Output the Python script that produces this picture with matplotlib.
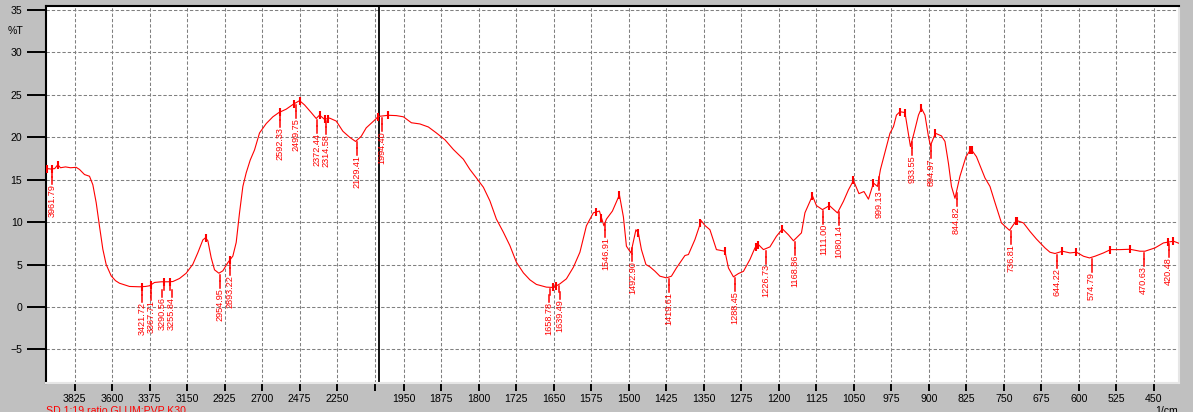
"""FTIR transmittance spectrum, SD 1:19 GLUM:PVP K30."""

import numpy as np
import matplotlib
matplotlib.use('Agg')
import matplotlib.pyplot as plt
from matplotlib.transforms import offset_copy

# spectrum (1/cm, %T)
WAVENUMBER = [
    4000, 3992, 3966, 3945, 3926, 3910, 3880, 3850, 3816, 3796, 3766, 3736,
    3716, 3696, 3676, 3656, 3636, 3606, 3580, 3556, 3496, 3436, 3400, 3376,
    3360, 3346, 3306, 3266, 3236, 3196, 3156, 3116, 3086, 3056, 3040, 3026,
    3006, 2986, 2960, 2936, 2906, 2876, 2856, 2836, 2816, 2796, 2772, 2746,
    2716, 2676, 2636, 2600, 2556, 2512, 2476, 2446, 2406, 2376, 2356, 2326,
    2296, 2256, 2216, 2176, 2140, 2106, 2076, 2026, 2006,
    1999, 1981, 1965, 1951, 1935, 1918, 1901, 1885, 1868, 1851, 1831, 1818,
    1805, 1791, 1778, 1765, 1751, 1738, 1725, 1711, 1698, 1685, 1665, 1651,
    1638, 1625, 1611, 1598, 1585, 1571, 1559, 1550, 1545, 1533, 1519, 1511,
    1505, 1496, 1491, 1486, 1481, 1475, 1466, 1458, 1448, 1438, 1425, 1415,
    1405, 1388, 1381, 1368, 1358, 1356, 1348, 1338, 1325, 1308, 1301, 1291,
    1281, 1271, 1258, 1248, 1241, 1231, 1218, 1205, 1193, 1181, 1171, 1155,
    1148, 1138, 1133, 1125, 1113, 1099, 1083, 1071, 1061, 1051, 1040, 1030,
    1021, 1011, 1003, 997, 978, 971, 965, 958, 948, 943, 937, 930, 921, 915,
    908, 901, 897, 891, 887, 875, 868, 861, 855, 848, 838, 826, 816, 805,
    788, 778, 768, 755, 739, 725, 711, 698, 685, 668, 658, 648, 633, 618,
    605, 591, 579, 568, 551, 537, 518, 498, 478, 468, 448, 431, 411, 400,
]
TRANSMITTANCE = [
    16.0, 16.3, 16.25, 16.3, 16.76, 16.4, 16.5, 16.4, 16.45, 16.2, 15.6, 15.4,
    14.4, 12.3, 9.5, 6.8, 5.0, 3.67, 3.1, 2.8, 2.42, 2.38, 2.42, 2.5,
    2.7, 2.89, 2.97, 2.97, 3.0, 3.36, 3.98, 5.04, 6.4, 7.9, 8.16, 7.8,
    5.8, 4.38, 3.98, 4.26, 5.23, 6.0, 7.6, 11.1, 14.2, 15.8, 17.3, 18.5,
    20.5, 21.6, 22.4, 22.9, 23.3, 23.9, 24.3, 23.8, 22.9, 22.2, 22.6, 22.1,
    22.25, 21.9, 20.7, 20.0, 19.5, 20.1, 21.1, 22.0, 22.4,
    22.46, 22.58, 22.54, 22.4, 21.7, 21.56, 21.2, 20.5, 19.7, 18.55, 17.4, 16.2,
    15.2, 14.1, 12.5, 10.35, 8.8, 7.23, 5.27, 4.02, 3.2, 2.66, 2.34, 2.3,
    2.73, 3.32, 4.69, 6.45, 9.57, 11.1, 11.3, 9.57, 10.35, 11.3, 13.2, 10.6,
    7.16, 6.37, 7.75, 9.1, 8.7, 6.76, 5.0, 4.73, 4.22, 3.63, 3.43, 3.63,
    4.6, 6.06, 6.18, 7.94, 9.7, 10.2, 9.6, 9.1, 6.76, 6.57, 4.6, 3.55,
    3.94, 4.2, 5.6, 6.96, 7.35, 6.76, 7.08, 8.33, 9.2, 8.5, 7.8, 8.73,
    11.1, 12.45, 13.1, 11.94, 11.47, 11.94, 11.08, 12.45, 13.8, 14.9, 13.35, 13.6,
    12.7, 14.6, 14.2, 16.2, 20.46, 21.24, 22.6, 23.0, 22.9, 21.05, 18.9, 20.46, 22.6, 23.4,
    22.6, 20.07, 19.0, 19.9, 20.46, 20.15, 19.5, 16.9, 14.2, 12.8, 15.4, 17.7, 18.6, 17.7,
    15.2, 14.2, 12.3, 9.9, 9.03, 10.2, 9.9, 8.9, 8.0, 6.96, 6.45, 6.3, 6.57, 6.37,
    6.45, 5.98, 5.78, 5.98, 6.37, 6.76, 6.76, 6.8, 6.57, 6.57, 6.96, 7.55, 7.75, 7.5,
]

# picked peaks (labelled) and the small bound marks on the trace
PEAKS = [
    3961.79, 3421.72, 3367.71, 3290.56, 3255.84, 2954.95, 2893.22, 2592.33,
    2499.75, 2372.44, 2314.58, 2129.41, 1994.40, 1658.78, 1639.49, 1546.91,
    1492.90, 1419.61, 1288.45, 1226.73, 1168.86, 1111.00, 1080.14, 999.13,
    933.55, 894.97, 844.82, 736.81, 644.22, 574.79, 470.63, 420.48,
]
MARKS = [
    3992, 3961.79, 3926, 3421.72, 3367.71, 3290.56, 3255.84, 3040, 2893.22,
    2592.33, 2512, 2476, 2356, 2326, 2306, 2006, 1981, 1651, 1645, 1565, 1555,
    1519, 1481, 1357, 1308, 1246, 1241, 1193, 1133, 1099, 1051, 1011, 958,
    948, 915, 887, 817, 814, 726, 723, 633, 605, 537, 498, 422, 411,
]

X_TICKS = [3825, 3600, 3375, 3150, 2925, 2700, 2475, 2250, 2025,
           1950, 1875, 1800, 1725, 1650, 1575, 1500, 1425, 1350, 1275, 1200,
           1125, 1050, 975, 900, 825, 750, 675, 600, 525, 450]
Y_TICKS = [-5, 0, 5, 10, 15, 20, 25, 30, 35]
SAMPLE = 'SD 1:19 ratio GLUM:PVP K30'

BREAK = 2000.0
RED = '#ff0000'
GRAY = '#c0c0c0'
W, H = 1193, 412

# labels that the software pushed sideways to keep them apart (pixels)
NUDGE = {3290.56: -1.5, 3255.84: 2.0, 1658.78: -0.5, 1639.49: 0.5}


def _fwd(w):
    w = np.asarray(w, dtype=float)
    return np.where(w >= BREAK, (w - BREAK) / 3.0, w - BREAK)


def _inv(u):
    u = np.asarray(u, dtype=float)
    return np.where(u >= 0, u * 3.0 + BREAK, u + BREAK)


def run():
    plt.rcParams['font.family'] = ['Liberation Sans', 'DejaVu Sans']
    fig = plt.figure(figsize=(W / 100, H / 100), dpi=100, facecolor=GRAY)
    ax = fig.add_axes([45.5 / W, 1 - 383 / H, (1179 - 45.5) / W, (383 - 6) / H])
    ax.set_facecolor('white')
    ax.set_xscale('function', functions=(_fwd, _inv))
    ax.set_xlim(4000, 400)
    ax.set_ylim(-8.95, 35.45)

    for t in Y_TICKS:
        ax.axhline(t, color='#808080', lw=0.75, ls=(0, (3.2, 1.9)), zorder=1)
    for t in X_TICKS:
        ax.axvline(t, color='#808080', lw=0.75, ls=(0, (3.2, 1.9)), zorder=1)
    ax.axvline(BREAK, color='black', lw=1.3, zorder=2)

    wav = np.array(WAVENUMBER)
    trn = np.array(TRANSMITTANCE)
    ax.plot(wav, trn, color=RED, lw=0.8, zorder=3)

    # np.interp wants increasing x
    def _on_curve(w):
        return np.interp(w, wav[::-1], trn[::-1])

    for w in MARKS:
        ax.plot([w], [_on_curve(w)], marker='|', ms=6, mew=1.5,
                color=RED, zorder=4)

    px = 1.0 / 8.486  # one pixel in %T
    for w in PEAKS:
        t = _on_curve(w)
        dx = NUDGE.get(w, 0.0)
        shifted = offset_copy(ax.transData, fig=fig, x=dx, y=0, units='dots')
        ax.plot([w, w], [t - 2 * px, t - 8 * px], color=RED, lw=1.1,
                zorder=4)
        ax.plot([w, w], [t - 8 * px, t - 15 * px], color=RED, lw=1.1,
                zorder=4, transform=shifted)
        ax.text(w, t - 15 * px, '%.2f' % w, rotation=90, ha='center',
                va='top', color=RED, fontsize=6.6, zorder=4,
                transform=shifted)

    ax.set_xticks(X_TICKS)
    ax.set_xticklabels(['' if t == 2025 else str(t) for t in X_TICKS])
    ax.set_yticks(Y_TICKS)
    ax.minorticks_off()
    ax.tick_params(axis='x', direction='out', length=5.8, width=1.4, pad=2.2,
                   labelsize=7.6, colors='black')
    ax.tick_params(axis='y', direction='out', length=13.7, width=1.4, pad=2.9,
                   labelsize=7.6, colors='black')

    for side in ('left', 'top'):
        ax.spines[side].set_color('black')
        ax.spines[side].set_linewidth(1.5)
    for side in ('right', 'bottom'):
        ax.spines[side].set_color('#e6e6e6')
        ax.spines[side].set_linewidth(1.5)

    fig.text(8 / W, 1 - 31 / H, '%T', ha='left', va='center', fontsize=7.6)
    # both strings sit at the bottom edge and are clipped there, as in the
    # instrument's screen copy
    fig.text(1155 / W, 1 - 406 / H, '1/cm', ha='left', va='top', fontsize=7.6)
    fig.text(46 / W, 1 - 406 / H, SAMPLE, ha='left', va='top',
             fontsize=7.6, color=RED)

    fig.savefig('out.png', dpi=100, facecolor=GRAY)


if __name__ == '__main__':
    run()
